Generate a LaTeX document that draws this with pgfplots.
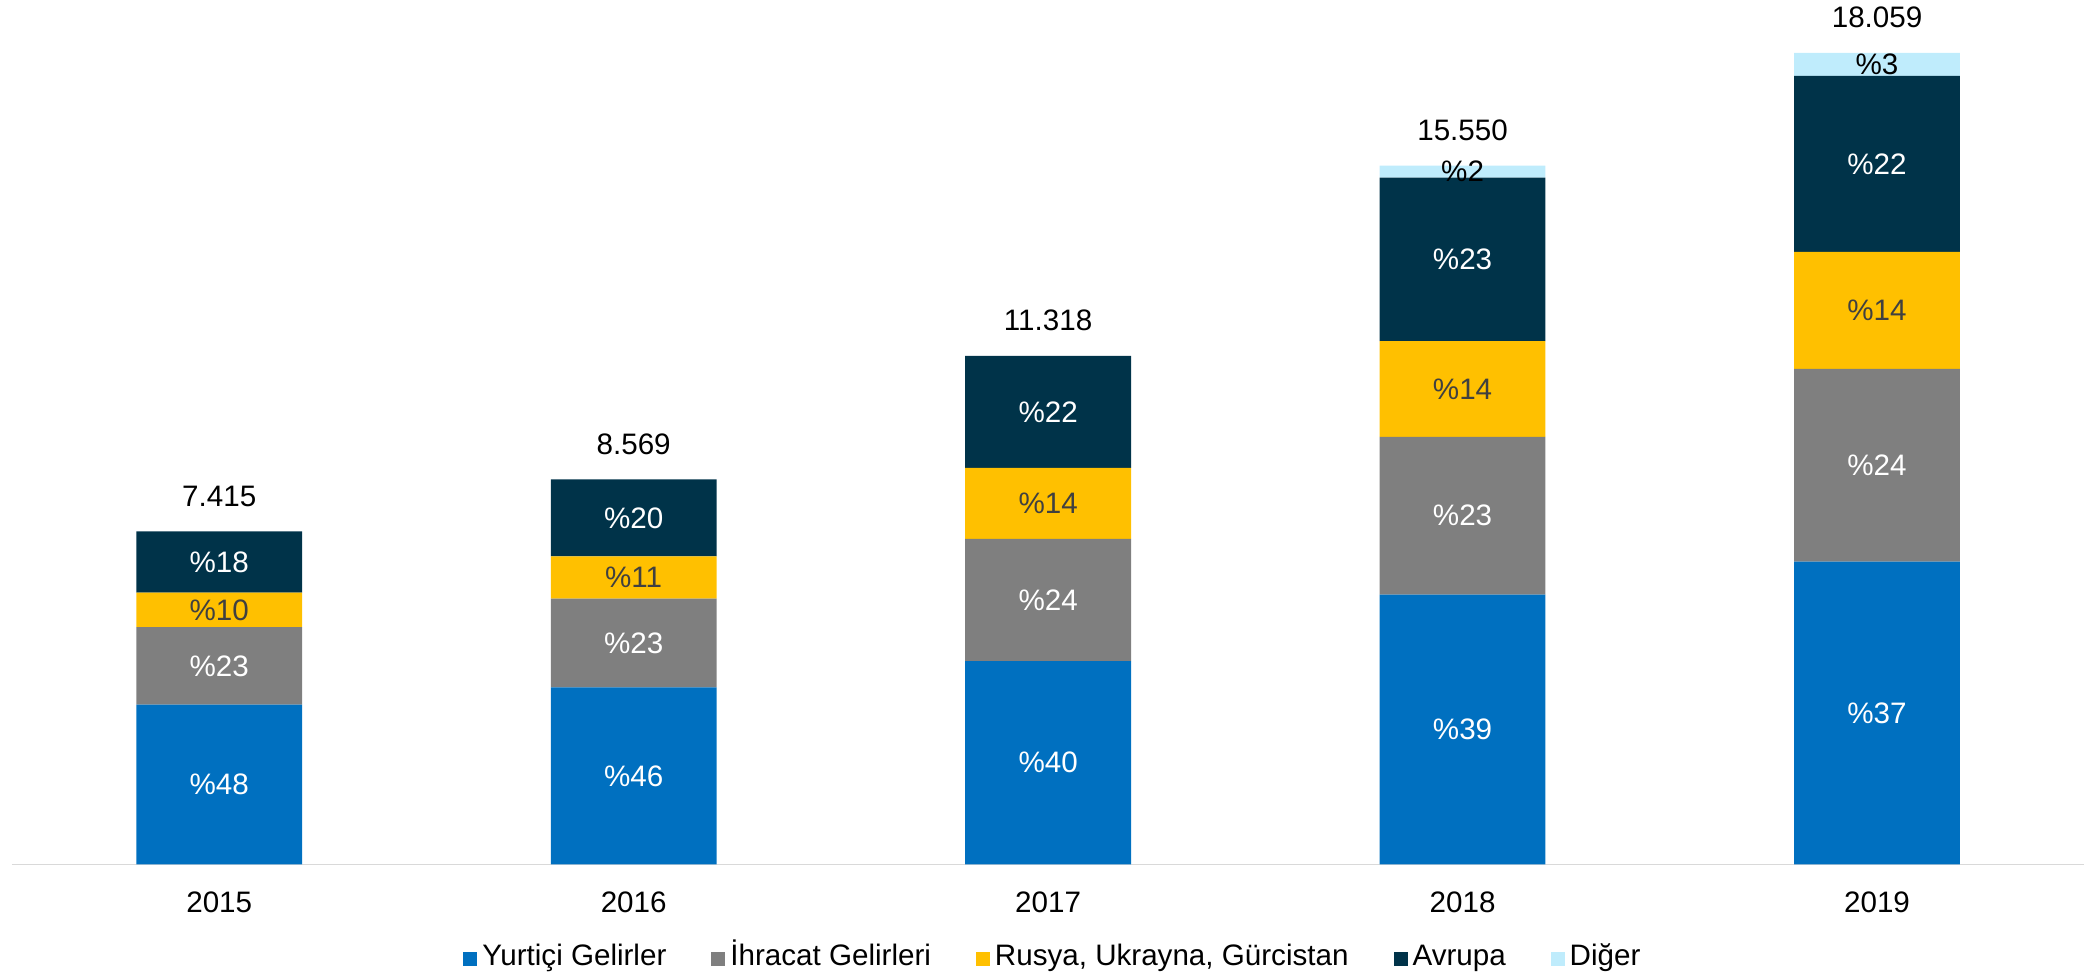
\documentclass[border=0pt]{standalone}
\usepackage{fontspec}
\setmainfont{Liberation Sans}
\usepackage{pgfplots}
\usepackage{pgfplotstable}
\pgfplotsset{compat=1.18}
\definecolor{cblue}{HTML}{0070C0}
\definecolor{cgray}{HTML}{7F7F7F}
\definecolor{cyellow}{HTML}{FFC000}
\definecolor{cdark}{HTML}{003349}
\definecolor{clight}{HTML}{BFECFC}
\definecolor{axisgray}{HTML}{D9D9D9}
\definecolor{labgray}{HTML}{404040}

% values; p* columns are the printed shares
\pgfplotstableread{
x b g y d o pb pg py pd po tot
0 3559 1720 771 1365 0 48 23 10 18 0 7.415
1 3942 1971 943 1713 0 46 23 11 20 0 8.569
2 4527 2716 1585 2490 0 40 24 14 22 0 11.318
3 6002 3514 2130 3639 265 39 23 14 23 2 15.550
4 6740 4290 2600 3920 509 37 24 14 22 3 18.059
}\data

\newcommand{\chartfont}{\fontsize{14.8pt}{17pt}\selectfont}

% stacked bars put nodes near coords in the middle of each segment
\pgfplotsset{
  seg/.style 2 args={
    draw=none, fill=#1,
    point meta=explicit symbolic,
    nodes near coords={\ifnum\pgfplotspointmeta>0 \%\pgfplotspointmeta\fi},
    every node near coord/.append style={anchor=center, text=#2, font=\chartfont},
  },
}

\begin{document}
\begin{tikzpicture}[font=\chartfont]
\begin{axis}[
  scale only axis,
  width=1036.5pt, height=432.35pt,
  ybar stacked, bar width=0.4,
  xmin=-0.5, xmax=4.5, ymin=0, ymax=19238,
  enlargelimits=false,
  axis x line=bottom, axis y line=none,
  x axis line style={color=axisgray, line width=0.75pt, -},
  xtick=data, xticklabels={2015,2016,2017,2018,2019},
  major tick length=0pt,
  xticklabel style={yshift=-10pt},
  ytick=\empty,
  clip=false,
  legend columns=-1,
  legend style={at={(0.503,-0.109)}, anchor=center, draw=none, inner sep=0pt,
    font=\chartfont,
    nodes={inner xsep=2.5pt, text height=0.95em, text depth=0.25em},
    /tikz/every even column/.append style={column sep=20pt}},
  legend image code/.code={\fill[#1] (0pt,-3.5pt) rectangle (7pt,3.5pt);},
]
\addplot[seg={cblue}{white}] table[x=x, y=b, meta=pb] {\data};
\addlegendentry{Yurtiçi Gelirler}
\addplot[seg={cgray}{white}] table[x=x, y=g, meta=pg] {\data};
\addlegendentry{İhracat Gelirleri}
\addplot[seg={cyellow}{labgray}] table[x=x, y=y, meta=py] {\data};
\addlegendentry{Rusya, Ukrayna, Gürcistan}
\addplot[seg={cdark}{white}] table[x=x, y=d, meta=pd] {\data};
\addlegendentry{Avrupa}
\addplot[seg={clight}{black}] table[x=x, y=o, meta=po] {\data};
\addlegendentry{Diğer}
% totals on top (tiny invisible segment, no legend entry)
\addplot[draw=none, fill=none,
  point meta=explicit symbolic,
  nodes near coords={\pgfplotspointmeta},
  every node near coord/.append style={anchor=base, yshift=12.5pt, text=black,
    font=\chartfont}]
  table[x=x, y expr=1, meta=tot] {\data};
\end{axis}
\path ([xshift=-6pt]current axis.north west) rectangle ([yshift=-56.15pt]current axis.south east);
\end{tikzpicture}
\end{document}
